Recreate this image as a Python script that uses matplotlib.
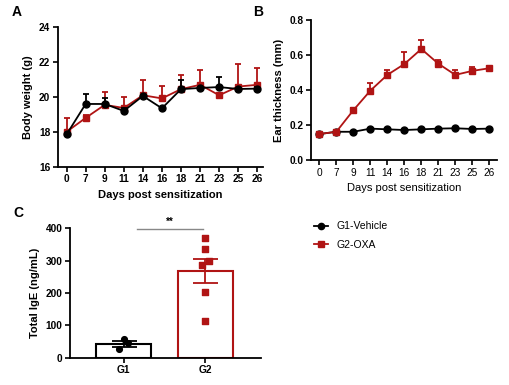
import numpy as np
import matplotlib
matplotlib.use("Agg")
import matplotlib.pyplot as plt
from matplotlib.lines import Line2D

plt.rcParams['font.family'] = ['Liberation Sans', 'DejaVu Sans']

# data
days = ['0', '7', '9', '11', '14', '16', '18', '21', '23', '25', '26']

bw_g1 = [17.85, 19.6, 19.6, 19.2, 20.06, 19.35, 20.45, 20.52, 20.57, 20.46, 20.48]
bw_g1_err = [0.08, 0.6, 0.36, 0.15, 0.08, 0.08, 0.55, 0.08, 0.55, 0.08, 0.08]
bw_g2 = [18.0, 18.8, 19.55, 19.37, 20.1, 19.92, 20.45, 20.7, 20.1, 20.6, 20.7]
bw_g2_err = [0.8, 0.15, 0.75, 0.63, 0.9, 0.7, 0.83, 0.83, 0.1, 1.3, 0.96]

ear_g1 = [0.15, 0.163, 0.163, 0.181, 0.177, 0.173, 0.177, 0.181, 0.183, 0.179, 0.181]
ear_g1_err = [0.004] * 11
ear_g2 = [0.15, 0.163, 0.286, 0.398, 0.488, 0.55, 0.636, 0.552, 0.488, 0.511, 0.526]
ear_g2_err = [0.01, 0.008, 0.012, 0.042, 0.028, 0.07, 0.05, 0.02, 0.03, 0.02, 0.012]

groups = ['G1', 'G2']
ige_g1 = [59, 44, 26]
ige_g2 = [369, 337, 299, 287, 204, 112]
jit_g1 = [0.0, 0.05, -0.05]
jit_g2 = [0.0, 0.0, 0.045, -0.045, 0.0, 0.0]

RED = '#b01414'
BLK = 'black'

W, H = 509, 385
fig = plt.figure(figsize=(W / 100, H / 100), dpi=100)


def px_axes(l, t, r, b):
    return fig.add_axes([l / W, 1 - b / H, (r - l) / W, (b - t) / H])


def style(ax):
    for s in ['top', 'right']:
        ax.spines[s].set_visible(False)
    for s in ['left', 'bottom']:
        ax.spines[s].set_linewidth(1.3)
    ax.tick_params(width=1.2, length=3.5, labelsize=7.3, pad=2)
    for lab in ax.get_xticklabels() + ax.get_yticklabels():
        lab.set_fontweight('bold')


def series(ax, y, err, color, marker, ms, z):
    x = np.arange(len(y))
    ax.errorbar(x, y, yerr=[np.zeros(len(err)), err], color=color, marker=marker,
                ms=ms, lw=1.3, elinewidth=1.3, capsize=2.5, capthick=1.3, zorder=z)


# panel A
axA = px_axes(58, 27.3, 263, 166.7)
series(axA, bw_g2, bw_g2_err, RED, 's', 4.8, 3)
series(axA, bw_g1, bw_g1_err, BLK, 'o', 5.0, 4)
axA.set_ylim(16, 24)
axA.set_yticks([16, 18, 20, 22, 24])
axA.set_xlim(-0.45, 10.3)
axA.set_xticks(range(len(days)))
axA.set_xticklabels(days)
axA.set_ylabel('Body weight (g)', fontsize=8, fontweight='bold', labelpad=4)
axA.set_xlabel('Days post sensitization', fontsize=8, fontweight='bold', labelpad=4)
style(axA)

# panel B
axB = px_axes(311, 20.3, 497, 160.3)
series(axB, ear_g1, ear_g1_err, BLK, 'o', 5.0, 3)
series(axB, ear_g2, ear_g2_err, RED, 's', 4.8, 4)
axB.set_ylim(0, 0.8)
axB.set_yticks([0.0, 0.2, 0.4, 0.6, 0.8])
axB.set_xlim(-0.49, 10.45)
axB.set_xticks(range(len(days)))
axB.set_xticklabels(days)
axB.set_ylabel('Ear thickness (mm)', fontsize=8, fontweight='bold', labelpad=4)
axB.set_xlabel('Days post sensitization', fontsize=8, labelpad=4)
style(axB)
for lab in axB.get_xticklabels():
    lab.set_fontweight('normal')

# panel C
axC = px_axes(70, 228.3, 261, 357.7)
vals = [ige_g1, ige_g2]
cols = [BLK, RED]
jits = [jit_g1, jit_g2]
for i, (v, c, j) in enumerate(zip(vals, cols, jits)):
    m = np.mean(v)
    sem = np.std(v, ddof=1) / np.sqrt(len(v))
    axC.bar(i, m, width=0.67, facecolor='white', edgecolor=c, lw=1.5, zorder=2)
    axC.errorbar(i, m, yerr=sem, color=c, lw=1.3, capsize=9, capthick=1.3, zorder=3)
    axC.scatter(i + np.array(j), v, color=c, marker='o' if i == 0 else 's', s=17, zorder=4)
axC.set_ylim(0, 400)
axC.set_yticks([0, 100, 200, 300, 400])
axC.set_xlim(-0.655, 1.68)
axC.set_xticks(range(len(groups)))
axC.set_xticklabels(groups)
axC.set_ylabel('Total IgE (ng/mL)', fontsize=8, fontweight='bold', labelpad=4)
style(axC)
axC.plot([0.17, 0.97], [398, 398], color='#888888', lw=1.0, clip_on=False)
axC.text(0.57, 403, '**', ha='center', va='bottom', fontsize=7, fontweight='bold')

# legend
handles = [Line2D([], [], color=BLK, marker='o', ms=4.5, lw=1.3),
           Line2D([], [], color=RED, marker='s', ms=4.3, lw=1.3)]
fig.legend(handles, ['G1-Vehicle', 'G2-OXA'], loc='upper left',
           bbox_to_anchor=(305 / W, 1 - 212 / H), frameon=False, fontsize=7.5,
           handlelength=1.3, handletextpad=0.8, labelspacing=0.8)

# panel letters
fig.text(12 / W, 1 - 12 / H, 'A', fontsize=10, fontweight='bold', va='center')
fig.text(253 / W, 1 - 12 / H, 'B', fontsize=10, fontweight='bold', va='center')
fig.text(13 / W, 1 - 213 / H, 'C', fontsize=10, fontweight='bold', va='center')

fig.savefig('out.png', dpi=100)
